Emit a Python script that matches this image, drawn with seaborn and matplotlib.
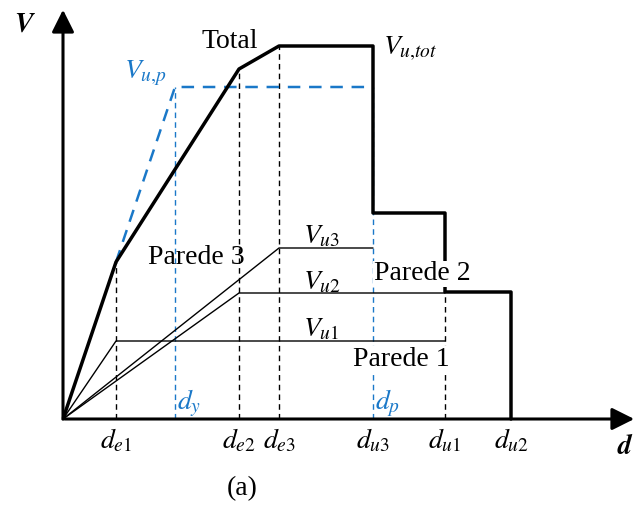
import numpy as np
import pandas as pd
import matplotlib
matplotlib.use("Agg")
import matplotlib.pyplot as plt
import seaborn as sns

# ==============================
# DATA (schematic)
# ==============================
d_e1, d_y, d_e2, d_e3, d_u3, d_u1, d_u2 = 5.3, 11.2, 17.6, 21.6, 31.0, 38.2, 44.8

V_u1, V_u2, V_u3 = 7.8, 12.6, 17.1
V_tot = 37.3
V_up = 33.2

# wall curves
p1_x = [0, d_e1, d_u1]
p1_y = [0, V_u1, V_u1]
p2_x = [0, d_e2, d_u1]
p2_y = [0, V_u2, V_u2]
p3_x = [0, d_e3, d_u3]
p3_y = [0, V_u3, V_u3]

# total curve
tot_x = [0, d_e1, d_e2, d_e3, d_u3, d_u3, d_u1, d_u1, d_u2, d_u2]
tot_y = [0, 15.7, 35.0, V_tot, V_tot, 20.6, 20.6, 12.7, 12.7, 0]

# equivalent bilinear
up_x = [d_e1, d_y, d_u3]
up_y = [15.7, V_up, V_up]

blue = "#1a78c8"

# ==============================
# PLOT
# ==============================
sns.set_style("white")
plt.rcParams["font.family"] = ["Liberation Serif", "DejaVu Serif"]
plt.rcParams["mathtext.fontset"] = "stix"
plt.rcParams["text.color"] = "black"

fig = plt.figure(figsize=(6.4, 5.07), dpi=100)
ax = fig.add_axes([0, 0, 1, 1])
ax.set_xlim(-6.3, 57.7)
ax.set_ylim(-8.8, 41.9)
ax.axis("off")

def line(x, y, **kw):
    df = pd.DataFrame({"x": x, "y": y})
    sns.lineplot(data=df, x="x", y="y", sort=False, estimator=None, ax=ax, **kw)

# vertical guide lines
for xv, top in [(d_e1, 15.7), (d_e2, 35.0), (d_e3, V_tot), (d_u1, V_u2)]:
    line([xv, xv], [0, top], color="black", lw=1.0, linestyle=(0, (4, 3)))
for xv in [d_y, d_u3]:
    line([xv, xv], [0, V_up], color=blue, lw=1.0, linestyle=(0, (4, 3)))

line(p1_x, p1_y, color="black", lw=1.0)
line(p2_x, p2_y, color="black", lw=1.0)
line(p3_x, p3_y, color="black", lw=1.0)
line(up_x, up_y, color=blue, lw=1.8, linestyle=(0, (5, 3.5)))
line(tot_x, tot_y, color="black", lw=2.5)

# axes arrows
arw = dict(arrowstyle="-|>", color="black", lw=2.2, mutation_scale=34)
ax.annotate("", xy=(0, 41.2), xytext=(0, -0.1), arrowprops=arw)
ax.annotate("", xy=(57.4, 0), xytext=(-0.1, 0), arrowprops=arw)

fs = 20
ax.text(-4.9, 39.4, r"$\boldsymbol{V}$", fontsize=fs, ha="left", va="center")
ax.text(56.2, -2.8, r"$\boldsymbol{d}$", fontsize=fs, ha="center", va="center")

tick_pos = {"e1": d_e1, "e2": d_e2, "e3": d_e3, "u3": d_u3, "u1": d_u1, "u2": d_u2}
for key, xv in tick_pos.items():
    ax.text(xv, -2.2, r"$d_{%s}$" % (key[0] + r"\mathrm{" + key[1] + "}"),
            fontsize=fs, ha="center", va="center")

ax.text(d_y + 0.2, 1.6, r"$d_y$", fontsize=fs, color=blue, ha="left", va="center")
ax.text(d_u3 + 0.2, 1.6, r"$d_p$", fontsize=fs, color=blue, ha="left", va="center")

ax.text(16.7, 37.8, "Total", fontsize=fs, ha="center", va="center")
ax.text(32.0, 37.0, r"$V_{u{,}tot}$", fontsize=fs, ha="left", va="center")
ax.text(6.1, 34.6, r"$V_{u{,}p}$", fontsize=fs, color=blue, ha="left", va="center")

ax.text(24.0, 18.2, r"$V_{u\mathrm{3}}$", fontsize=fs, ha="left", va="center")
ax.text(24.0, 13.6, r"$V_{u\mathrm{2}}$", fontsize=fs, ha="left", va="center")
ax.text(24.0, 8.9, r"$V_{u\mathrm{1}}$", fontsize=fs, ha="left", va="center")

ax.text(13.3, 16.2, "Parede 3", fontsize=fs, ha="center", va="center")
ax.text(35.9, 14.5, "Parede 2", fontsize=fs, ha="center", va="center",
        bbox=dict(facecolor="white", edgecolor="none", pad=0.5))
ax.text(33.8, 6.0, "Parede 1", fontsize=fs, ha="center", va="center",
        bbox=dict(facecolor="white", edgecolor="none", pad=0.5))

ax.text(17.9, -7.0, "(a)", fontsize=fs, ha="center", va="center")

fig.savefig("out.png", dpi=100)
